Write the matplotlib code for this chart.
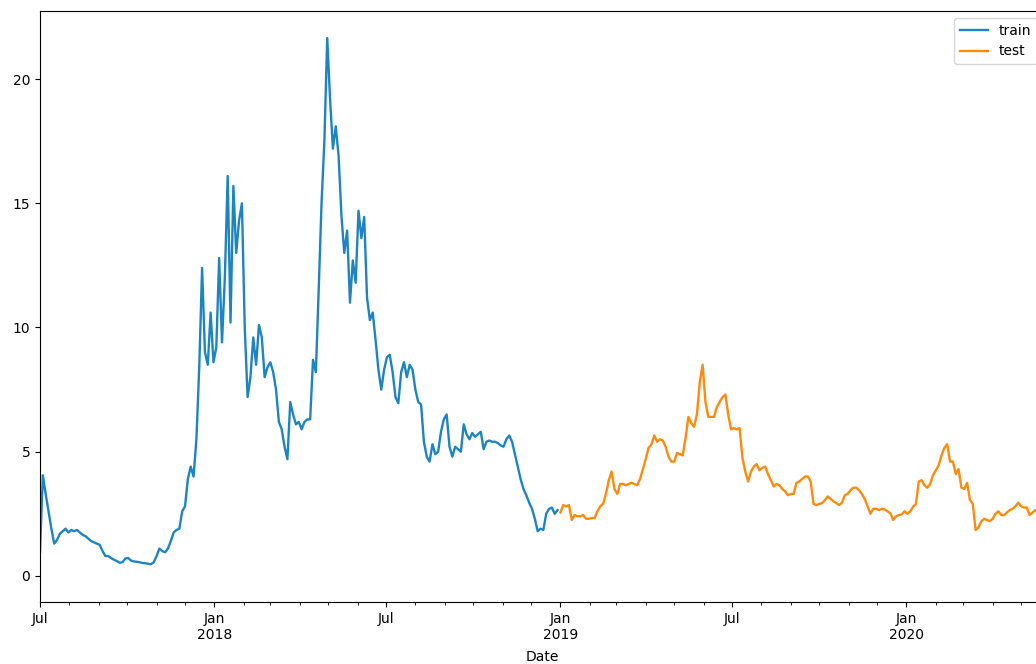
import numpy as np
import pandas as pd
import matplotlib
matplotlib.use('Agg')
import matplotlib.pyplot as plt
import matplotlib.dates as mdates

## values, one every 3 days
train_start = '2017-07-01'
train_values = [
    0.95, 4.05, 3.3, 2.6, 1.9, 1.3, 1.45, 1.7, 1.8, 1.9,
    1.75, 1.85, 1.8, 1.85, 1.75, 1.65, 1.6, 1.5, 1.4, 1.35,
    1.3, 1.25, 1.0, 0.8, 0.8, 0.72, 0.65, 0.6, 0.53, 0.55,
    0.7, 0.72, 0.62, 0.58, 0.57, 0.55, 0.52, 0.51, 0.49, 0.47,
    0.55, 0.8, 1.1, 1.0, 0.95, 1.1, 1.4, 1.75, 1.85, 1.9,
    2.6, 2.8, 3.9, 4.4, 4.0, 5.5, 8.4, 12.4, 9.0, 8.5,
    10.6, 8.6, 9.2, 12.8, 9.4, 12.0, 16.1, 10.2, 15.7, 13.0,
    14.3, 15.0, 10.0, 7.2, 8.0, 9.6, 8.5, 10.1, 9.6, 8.0,
    8.4, 8.6, 8.2, 7.5, 6.2, 5.9, 5.2, 4.7, 7.0, 6.5,
    6.1, 6.2, 5.9, 6.2, 6.3, 6.3, 8.7, 8.2, 11.5, 15.0,
    17.5, 21.65, 19.2, 17.2, 18.1, 16.9, 14.5, 13.0, 13.9, 11.0,
    12.7, 11.8, 14.7, 13.6, 14.45, 11.2, 10.3, 10.6, 9.5, 8.3,
    7.5, 8.3, 8.8, 8.9, 8.2, 7.2, 6.95, 8.2, 8.6, 8.0,
    8.5, 8.3, 7.5, 7.0, 6.9, 5.4, 4.8, 4.6, 5.3, 4.9,
    5.0, 5.8, 6.3, 6.5, 5.2, 4.8, 5.2, 5.1, 5.0, 6.1,
    5.7, 5.5, 5.75, 5.6, 5.7, 5.8, 5.1, 5.4, 5.45, 5.4,
    5.4, 5.35, 5.25, 5.2, 5.5, 5.65, 5.4, 4.9, 4.4, 3.9,
    3.5, 3.25, 2.95, 2.7, 2.3, 1.8, 1.9, 1.85, 2.5, 2.7,
    2.75, 2.5, 2.65,
]

test_start = '2019-01-01'
test_values = [
    2.55, 2.85, 2.8, 2.85, 2.25, 2.45, 2.4, 2.4, 2.45, 2.3,
    2.3, 2.33, 2.33, 2.6, 2.8, 2.9, 3.3, 3.85, 4.2, 3.5,
    3.3, 3.7, 3.7, 3.65, 3.7, 3.75, 3.7, 3.65, 3.9, 4.3,
    4.7, 5.15, 5.3, 5.65, 5.4, 5.5, 5.45, 5.2, 4.8, 4.6,
    4.6, 4.95, 4.9, 4.85, 5.55, 6.4, 6.15, 6.0, 6.5, 7.8,
    8.5, 7.0, 6.4, 6.4, 6.4, 6.8, 7.0, 7.2, 7.3, 6.5,
    5.9, 5.95, 5.9, 5.95, 4.75, 4.2, 3.8, 4.2, 4.4, 4.5,
    4.25, 4.35, 4.4, 4.1, 3.85, 3.6, 3.7, 3.65, 3.5, 3.4,
    3.25, 3.3, 3.3, 3.75, 3.8, 3.9, 4.0, 4.0, 3.8, 2.9,
    2.85, 2.9, 2.93, 3.05, 3.2, 3.1, 3.0, 2.93, 2.85, 2.95,
    3.25, 3.3, 3.45, 3.55, 3.55, 3.45, 3.3, 3.1, 2.8, 2.5,
    2.7, 2.7, 2.65, 2.7, 2.68, 2.6, 2.52, 2.25, 2.4, 2.45,
    2.47, 2.6, 2.5, 2.6, 2.78, 2.9, 3.8, 3.85, 3.65, 3.55,
    3.7, 4.05, 4.25, 4.45, 4.85, 5.15, 5.3, 4.6, 4.6, 4.1,
    4.3, 3.55, 3.5, 3.75, 3.05, 2.9, 1.85, 1.95, 2.2, 2.3,
    2.25, 2.2, 2.3, 2.5, 2.6, 2.45, 2.45, 2.55, 2.65, 2.7,
    2.8, 2.95, 2.8, 2.75, 2.75, 2.45, 2.55, 2.65, 2.6, 2.65,
    2.7,
]

def month_label(x, pos=None):
    d = mdates.num2date(x)
    if d.month == 1:
        return 'Jan\n%d' % d.year
    return d.strftime('%b')

def main():

        train = pd.Series(train_values,
                          index=pd.date_range(train_start, periods=len(train_values), freq='3D'))
        test = pd.Series(test_values,
                         index=pd.date_range(test_start, periods=len(test_values), freq='3D'))

        fig = plt.figure(figsize=(10.36, 6.64), dpi=100)
        ## axes runs past the right edge, as in the cropped original
        ax = fig.add_axes([0.0386, 0.0934, 0.969, 0.890])

        ax.plot(train.index, train.values, color='#1d84c2', lw=1.7, label='train')
        ax.plot(test.index, test.values, color='#ff8a0c', lw=1.7, label='test')

        ax.set_xlim(train.index[0], test.index[-1])
        ax.set_ylim(-1.05, 22.74)
        ax.set_yticks([0, 5, 10, 15, 20])

        ax.xaxis.set_major_locator(mdates.MonthLocator(bymonth=[1, 7]))
        ax.xaxis.set_minor_locator(mdates.MonthLocator())
        ax.xaxis.set_major_formatter(plt.FuncFormatter(month_label))
        ax.xaxis.set_minor_formatter(plt.NullFormatter())
        for lbl in ax.get_xticklabels():
            lbl.set_ha('center')
            lbl.set_rotation(0)

        ax.set_xlabel('Date', labelpad=6)
        ax.legend(loc='upper right')

        fig.savefig('out.png', dpi=100)

if __name__ == '__main__':

    main()
